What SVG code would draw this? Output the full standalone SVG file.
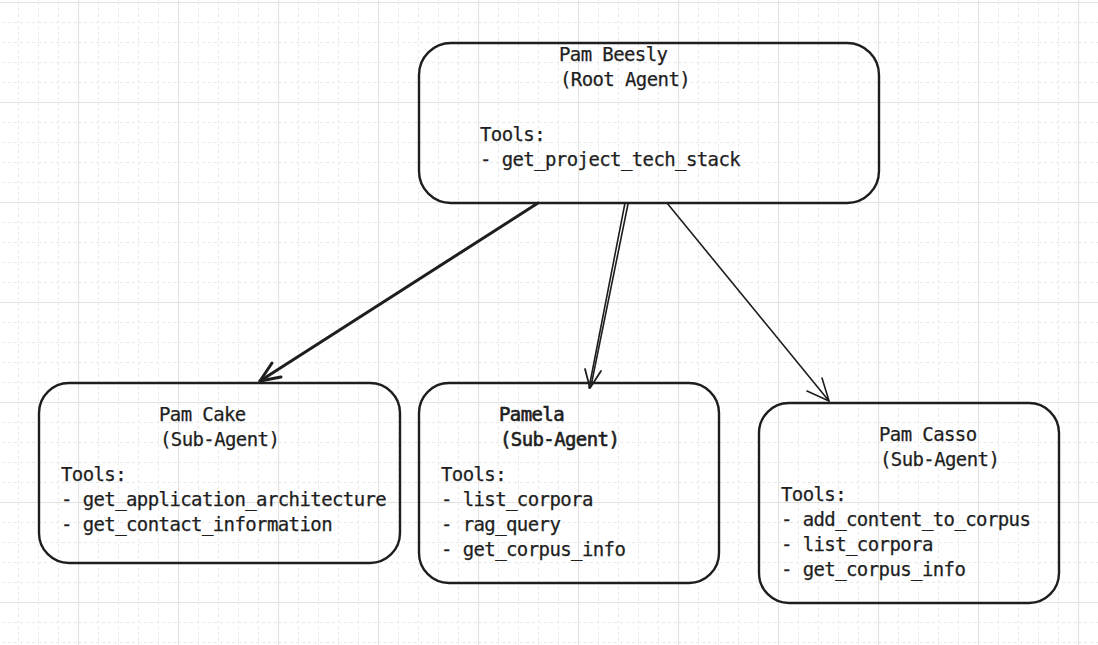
<svg xmlns="http://www.w3.org/2000/svg" width="1098" height="645" viewBox="0 0 1098 645">
  <defs>
    <pattern id="grid" patternUnits="userSpaceOnUse" x="78" y="2" width="100" height="100">
      <g stroke="#e9e9e9" stroke-width="1" stroke-dasharray="3 3" fill="none">
        <line x1="20.5" y1="0" x2="20.5" y2="100"/>
        <line x1="40.5" y1="0" x2="40.5" y2="100"/>
        <line x1="60.5" y1="0" x2="60.5" y2="100"/>
        <line x1="80.5" y1="0" x2="80.5" y2="100"/>
        <line x1="0" y1="20.5" x2="100" y2="20.5"/>
        <line x1="0" y1="40.5" x2="100" y2="40.5"/>
        <line x1="0" y1="60.5" x2="100" y2="60.5"/>
        <line x1="0" y1="80.5" x2="100" y2="80.5"/>
      </g>
      <g stroke="#e2e2e2" stroke-width="1.2" fill="none">
        <line x1="0.5" y1="0" x2="0.5" y2="100"/>
        <line x1="0" y1="0.5" x2="100" y2="0.5"/>
      </g>
    </pattern>
    <style>
      .box { fill: none; stroke: #1e1e1e; stroke-width: 2.4; }
      .t { font-family: "DejaVu Sans Mono", "Liberation Mono", monospace; font-size: 19px; letter-spacing: -0.6px; fill: #1e1e1e; stroke: #1e1e1e; stroke-width: 0.25; }
      .bold { stroke-width: 0.6; }
      .conn { fill: none; stroke: #1e1e1e; stroke-linecap: round; stroke-linejoin: round; }
    </style>
  </defs>
  <rect width="1098" height="645" fill="#ffffff"/>
  <rect width="1098" height="645" fill="url(#grid)"/>

  <g id="connectors">
    <g id="edge-root-cake">
      <path class="conn" stroke-width="3" d="M538 203 L260 381"/>
      <path class="conn" stroke-width="3" d="M281 377 L260 381 L272 363"/>
    </g>
    <g id="edge-root-pamela">
      <path class="conn" stroke-width="1.6" d="M625 203 L589 388"/>
      <path class="conn" stroke-width="1.6" d="M628 204 L591 386"/>
      <path class="conn" stroke-width="1.8" d="M601 371 L590 388 L585 369"/>
    </g>
    <g id="edge-root-casso">
      <path class="conn" stroke-width="1.6" d="M667 203 L829 401"/>
      <path class="conn" stroke-width="1.6" d="M822 378 L829 401 L807 391"/>
    </g>
  </g>

  <g id="node-root">
    <rect class="box" x="419" y="43" width="460" height="160" rx="32" ry="32"/>
    <text class="t" x="559" y="61">Pam Beesly</text>
    <text class="t" x="560" y="86">(Root Agent)</text>
    <text class="t" x="480" y="141">Tools:</text>
    <text class="t" x="480" y="166">- get_project_tech_stack</text>
  </g>

  <g id="node-cake">
    <rect class="box" x="39" y="383" width="361" height="180" rx="30" ry="30"/>
    <text class="t" x="159" y="421">Pam Cake</text>
    <text class="t" x="160" y="446">(Sub-Agent)</text>
    <text class="t" x="61" y="481">Tools:</text>
    <text class="t" x="61" y="506">- get_application_architecture</text>
    <text class="t" x="61" y="531">- get_contact_information</text>
  </g>

  <g id="node-pamela">
    <rect class="box" x="419" y="383" width="300" height="200" rx="30" ry="30"/>
    <text class="t bold" x="499" y="421">Pamela</text>
    <text class="t bold" x="500" y="446">(Sub-Agent)</text>
    <text class="t" x="441" y="481">Tools:</text>
    <text class="t" x="441" y="506">- list_corpora</text>
    <text class="t" x="441" y="531">- rag_query</text>
    <text class="t" x="441" y="556">- get_corpus_info</text>
  </g>

  <g id="node-casso">
    <rect class="box" x="759" y="403" width="300" height="200" rx="30" ry="30"/>
    <text class="t" x="879" y="441">Pam Casso</text>
    <text class="t" x="880" y="466">(Sub-Agent)</text>
    <text class="t" x="781" y="501">Tools:</text>
    <text class="t" x="781" y="526">- add_content_to_corpus</text>
    <text class="t" x="781" y="551">- list_corpora</text>
    <text class="t" x="781" y="576">- get_corpus_info</text>
  </g>
</svg>
